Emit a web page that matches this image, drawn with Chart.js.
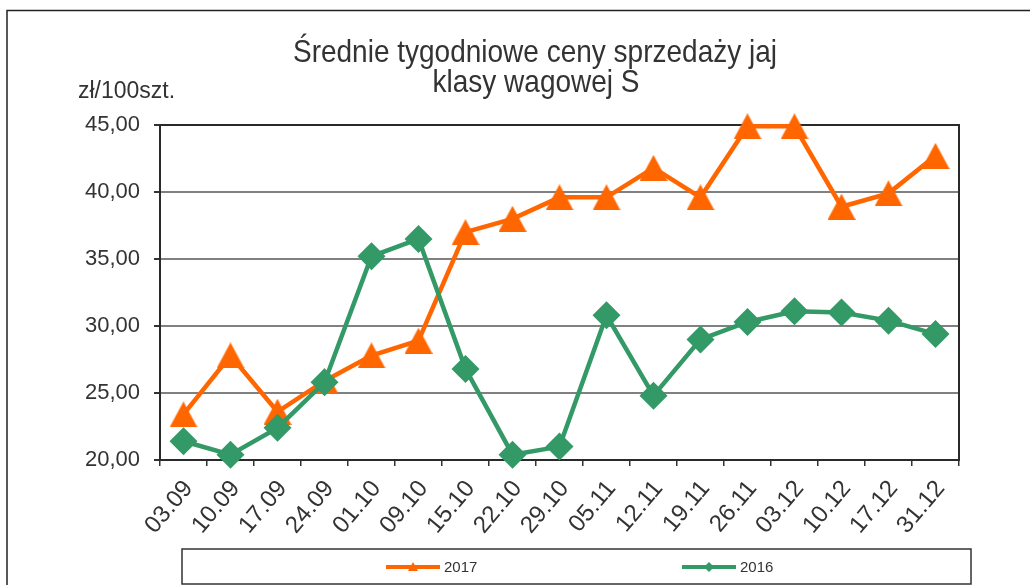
<!DOCTYPE html>
<html lang="pl">
<head>
<meta charset="utf-8">
<title>Średnie tygodniowe ceny sprzedaży jaj klasy wagowej S</title>
<script src="https://cdn.jsdelivr.net/npm/chart.js@4/dist/chart.umd.min.js"></script>
<style>
    html, body { margin: 0; padding: 0; background: #fff; }
    #wrap { width: 1035px; height: 585px; position: relative; }
</style>
</head>
<body>
<div id="wrap"><canvas id="price-chart"></canvas></div>
<script>
// ── Data ──────────────────────────────────────────────────────────────────────
const weeks = ['03.09', '10.09', '17.09', '24.09', '01.10', '09.10', '15.10', '22.10', '29.10',
               '05.11', '12.11', '19.11', '26.11', '03.12', '10.12', '17.12', '31.12'];
const prices2017 = [23.4, 27.8, 23.6, 25.9, 27.8, 28.9, 37.0, 38.0, 39.6,
                    39.6, 41.8, 39.6, 44.9, 44.9, 38.9, 39.9, 42.7];
const prices2016 = [21.4, 20.4, 22.4, 25.8, 35.2, 36.5, 26.8, 20.4, 21.0,
                    30.8, 24.8, 29.0, 30.3, 31.1, 31.0, 30.4, 29.4];
const yTicks = [20, 25, 30, 35, 40, 45];

const titleLines = ['Średnie tygodniowe ceny sprzedaży jaj', 'klasy wagowej S'];
const unitLabel = 'zł/100szt.';

const ORANGE = '#ff6600';
const GREEN = '#339966';
const TEXT = '#333333';
const FONT = "'Liberation Sans', Arial, sans-serif";

const fmt = (v) => Number(v).toFixed(2).replace('.', ',');

// ── Marker images (triangle centred on its box, like the original) ───────────
function triangleMarker(w, h, color) {
    const c = document.createElement('canvas');
    c.width = w; c.height = h;
    const g = c.getContext('2d');
    g.fillStyle = color;
    g.beginPath();
    g.moveTo(w / 2, 0);
    g.lineTo(w, h);
    g.lineTo(0, h);
    g.closePath();
    g.fill();
    return c;
}

// ── Decorations: frame, title, unit label, legend ─────────────────────────────
const decorPlugin = {
    id: 'decor',
    beforeDatasetsDraw(chart) {
        const { ctx, chartArea: a } = chart;
        ctx.save();
        ctx.strokeStyle = '#2a2a2a';
        ctx.lineWidth = 2;
        ctx.strokeRect(a.left, a.top, a.right - a.left, a.bottom - a.top);
        ctx.restore();
    },
    afterDraw(chart) {
        const ctx = chart.ctx;
        ctx.save();

        // outer frame
        ctx.strokeStyle = '#222';
        ctx.lineWidth = 1.5;
        ctx.beginPath();
        ctx.moveTo(7, 585);
        ctx.lineTo(7, 10.5);
        ctx.lineTo(1030, 10.5);
        ctx.stroke();

        // title (glyphs are a little taller in the original)
        ctx.fillStyle = TEXT;
        ctx.textAlign = 'center';
        ctx.textBaseline = 'alphabetic';
        ctx.font = '28px ' + FONT;
        [[titleLines[0], 535, 62], [titleLines[1], 536, 92]].forEach(([txt, x, y]) => {
            ctx.save();
            ctx.translate(x, y);
            ctx.scale(1, 1.12);
            ctx.fillText(txt, 0, 0);
            ctx.restore();
        });

        // unit
        ctx.textAlign = 'left';
        ctx.font = '23px ' + FONT;
        ctx.fillText(unitLabel, 78, 98);

        // legend box
        ctx.strokeStyle = '#333';
        ctx.lineWidth = 1.5;
        ctx.strokeRect(182, 549, 789, 35);

        const items = [
            { label: chart.data.datasets[0].label, color: ORANGE, x: 386, shape: 'tri' },
            { label: chart.data.datasets[1].label, color: GREEN, x: 682, shape: 'dia' },
        ];
        const ly = 567;
        ctx.font = '15px ' + FONT;
        ctx.textBaseline = 'middle';
        items.forEach(it => {
            ctx.strokeStyle = it.color;
            ctx.fillStyle = it.color;
            ctx.lineWidth = 4;
            ctx.beginPath();
            ctx.moveTo(it.x, ly);
            ctx.lineTo(it.x + 54, ly);
            ctx.stroke();
            const mx = it.x + 27;
            ctx.beginPath();
            if (it.shape === 'tri') {
                ctx.moveTo(mx, ly - 5);
                ctx.lineTo(mx + 5, ly + 4);
                ctx.lineTo(mx - 5, ly + 4);
            } else {
                ctx.moveTo(mx, ly - 5);
                ctx.lineTo(mx + 5, ly);
                ctx.lineTo(mx, ly + 5);
                ctx.lineTo(mx - 5, ly);
            }
            ctx.closePath();
            ctx.fill();
            ctx.fillStyle = TEXT;
            ctx.fillText(it.label, it.x + 58, ly + 1);
        });

        ctx.restore();
    }
};

// ── Chart ─────────────────────────────────────────────────────────────────────
const canvas = document.getElementById('price-chart');

new Chart(canvas, {
    type: 'line',
    data: {
        labels: weeks,
        datasets: [
            {
                label: '2017',
                data: prices2017,
                borderColor: ORANGE,
                backgroundColor: ORANGE,
                borderWidth: 4.5,
                pointStyle: triangleMarker(28, 26, ORANGE),
                pointRadius: 13,
                tension: 0,
                clip: false,
                order: 1,
            },
            {
                label: '2016',
                data: prices2016,
                borderColor: GREEN,
                backgroundColor: GREEN,
                borderWidth: 4.5,
                pointStyle: 'rectRot',
                pointRadius: 14,
                pointBorderWidth: 0,
                tension: 0,
                clip: false,
                order: 0,
            }
        ]
    },
    options: {
        responsive: true,
        maintainAspectRatio: false,
        animation: false,
        devicePixelRatio: 1,
        layout: { padding: { top: 125, right: 76, left: 0, bottom: 0 } },
        plugins: {
            legend: { display: false },
            title: { display: false },
            tooltip: { enabled: false },
        },
        scales: {
            x: {
                offset: true,
                afterFit: (s) => { s.height = 125; },
                grid: {
                    offset: true,
                    drawOnChartArea: false,
                    drawTicks: true,
                    tickLength: 6,
                    tickColor: '#333',
                    lineWidth: 1.5,
                },
                border: { color: '#2a2a2a', width: 2 },
                ticks: {
                    autoSkip: false,
                    minRotation: 50,
                    maxRotation: 50,
                    padding: 9,
                    labelOffset: 5,
                    color: TEXT,
                    font: { family: FONT, size: 24 },
                }
            },
            y: {
                min: yTicks[0],
                max: yTicks[yTicks.length - 1],
                afterFit: (s) => { s.width = 160; },
                afterBuildTicks: (s) => { s.ticks = yTicks.map(v => ({ value: v })); },
                grid: {
                    color: '#808080',
                    lineWidth: 2,
                    tickColor: '#333',
                    tickLength: 6,
                },
                border: { color: '#1a1a1a', width: 2 },
                ticks: {
                    padding: 14,
                    color: TEXT,
                    font: { family: FONT, size: 22 },
                    callback: (v) => fmt(v),
                }
            }
        }
    },
    plugins: [decorPlugin]
});
</script>
</body>
</html>
